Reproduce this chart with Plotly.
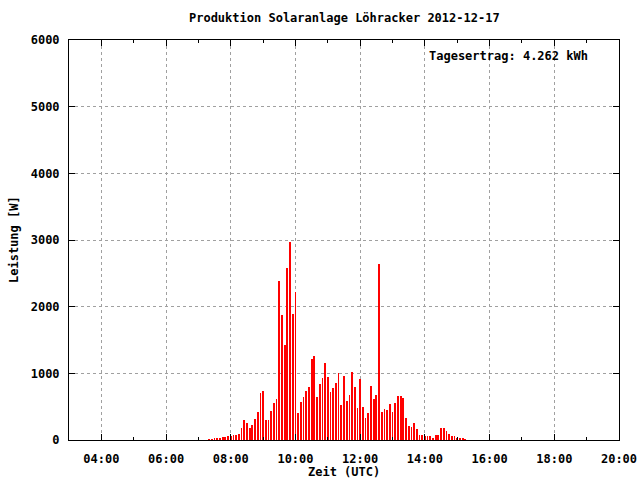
import plotly.graph_objects as go

# Data: 5-minute power readings (W), 2012-12-17
times = ["07:20","07:25","07:30","07:35","07:40","07:45","07:50","07:55",
         "08:00","08:05","08:10","08:15","08:20","08:25","08:30","08:35","08:40","08:45","08:50","08:55",
         "09:00","09:05","09:10","09:15","09:20","09:25","09:30","09:35","09:40","09:45","09:50","09:55",
         "10:00","10:05","10:10","10:15","10:20","10:25","10:30","10:35","10:40","10:45","10:50","10:55",
         "11:00","11:05","11:10","11:15","11:20","11:25","11:30","11:35","11:40","11:45","11:50","11:55",
         "12:00","12:05","12:10","12:15","12:20","12:25","12:30","12:35","12:40","12:45","12:50","12:55",
         "13:00","13:05","13:10","13:15","13:20","13:25","13:30","13:35","13:40","13:45","13:50","13:55",
         "14:00","14:05","14:10","14:15","14:20","14:25","14:30","14:35","14:40","14:45","14:50","14:55",
         "15:00","15:05","15:10","15:15"]
power = [15,15,30,30,30,45,45,60,
         60,75,75,90,180,300,255,180,225,315,420,705,
         735,300,300,435,555,615,2385,1875,1425,2580,2970,1890,
         2220,405,570,645,735,795,1215,1260,645,840,930,1155,
         945,720,780,855,1005,525,960,585,675,1020,795,480,
         915,495,330,405,810,615,675,2640,420,465,450,540,
         420,555,660,660,630,330,210,195,255,165,75,75,
         60,60,60,30,75,75,180,180,135,90,60,60,
         30,30,30,15]
tick_hours = [4, 6, 8, 10, 12, 14, 16, 18, 20]
tick_labels = ["04:00","06:00","08:00","10:00","12:00","14:00","16:00","18:00","20:00"]
y_ticks = [0, 1000, 2000, 3000, 4000, 5000, 6000]
title_text = "Produktion Solaranlage Löhracker 2012-12-17"
yield_text = "Tagesertrag: 4.262 kWh"
x_title = "Zeit (UTC)"
y_title = "Leistung [W]"

hours = [int(t[:2]) + int(t[3:]) / 60 for t in times]

FONT = "DejaVu Sans Mono"
bold = dict(family=FONT, size=12, color="black", weight="bold")

fig = go.Figure()
fig.add_trace(go.Bar(x=hours, y=power, width=0.024,
                     marker=dict(color="#ff0000", line=dict(width=0))))

axis_common = dict(showline=True, linecolor="black", linewidth=1, mirror="allticks",
                   ticks="inside", tickcolor="black", zeroline=False,
                   showgrid=True, gridcolor="#a0a0a0", griddash="dot", gridwidth=1,
                   tickfont=bold)

fig.update_layout(
    width=640, height=480,
    margin=dict(l=69, r=21, t=40, b=40, autoexpand=False),
    paper_bgcolor="white", plot_bgcolor="white",
    showlegend=False, bargap=0,
    font=bold,
    title=dict(text=title_text, x=0.538, xanchor="center", y=1 - 18/480, yanchor="middle",
               font=bold),
    xaxis=dict(range=[3, 20], tickvals=tick_hours, ticktext=tick_labels, ticklen=6,
               ticklabelstandoff=8,
               minor=dict(dtick=1, tick0=0, ticks="inside", ticklen=3, tickcolor="black", showgrid=False),
               **axis_common),
    yaxis=dict(range=[0, 6000], tickvals=y_ticks, ticklen=6, ticklabelstandoff=6,
               **axis_common),
    annotations=[
        dict(text=yield_text, xref="paper", yref="paper", x=0.947, y=0.96,
             xanchor="right", yanchor="middle", showarrow=False, font=bold),
        dict(text=x_title, xref="paper", yref="paper", x=0.5, y=-0.08,
             xanchor="center", yanchor="middle", showarrow=False, font=bold),
        dict(text=y_title, xref="paper", yref="paper", x=-0.1, y=0.5, textangle=-90,
             xanchor="center", yanchor="middle", showarrow=False, font=bold),
    ],
)

fig.write_html("out.html", config={"displayModeBar": False},
               post_script="document.body.style.margin='0px';")
